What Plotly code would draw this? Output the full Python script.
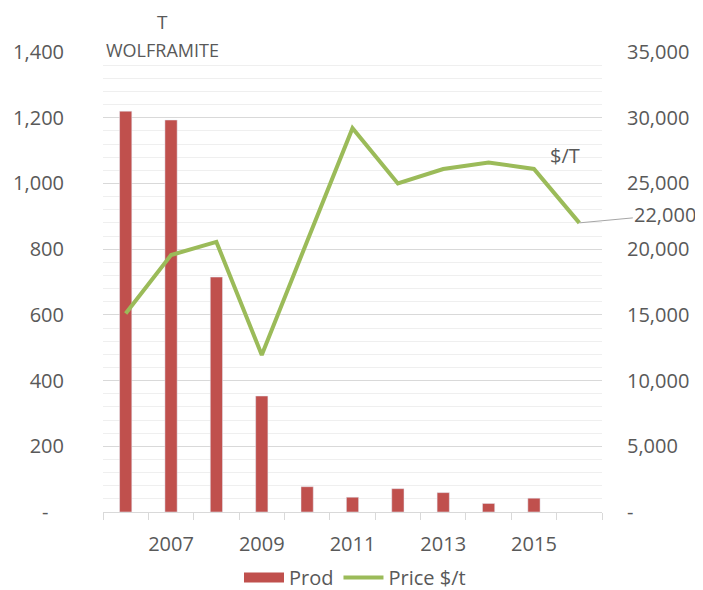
import plotly.graph_objects as go

# Wolframite production (t) and price ($/t)
years = [2006, 2007, 2008, 2009, 2010, 2011, 2012, 2013, 2014, 2015, 2016]
prod = [1220, 1193, 715, 353, 77, 45, 71, 59, 26, 42, None]
price = [15100, 19550, 20550, 11950, 20600, 29200, 25000, 26100, 26600, 26100, 22000]

label_years = [y for y in years if y % 2]
left_ticks = list(range(0, 1401, 200))
right_ticks = list(range(0, 35001, 5000))

GREY = "#595959"
RED = "#c0504d"
GREEN = "#9bbb59"
FONT = "Open Sans"


def fmt(v, pad=""):
    return "-" + pad if v == 0 else f"{v:,}"


fig = go.Figure()
fig.add_trace(go.Bar(
    x=years, y=prod, name="Prod", showlegend=False,
    marker=dict(color=RED), width=0.27,
))
# legend entry drawn as a wide block like the spreadsheet legend
fig.add_trace(go.Scatter(
    x=[None], y=[None], name="Prod", mode="lines",
    line=dict(color=RED, width=11),
))
fig.add_trace(go.Scatter(
    x=years, y=price, name="Price $/t", yaxis="y2",
    mode="lines", line=dict(color=GREEN, width=4),
))

fig.update_layout(
    width=695, height=582,
    margin=dict(l=95, r=101, t=44, b=78, autoexpand=False),
    paper_bgcolor="white", plot_bgcolor="white",
    font=dict(family=FONT, size=20, color=GREY),
    showlegend=True,
    legend=dict(orientation="h", x=0.505, xanchor="center", y=-0.1, yanchor="top",
                font=dict(size=20, color=GREY), itemwidth=40),
    xaxis=dict(
        range=[years[0] - 0.5, years[-1] + 0.5],
        tickvals=label_years, ticktext=[str(y) for y in label_years],
        ticks="", showline=True, linecolor="#d9d9d9", linewidth=1,
        minor=dict(tick0=years[0] - 0.5, dtick=1, ticks="outside", ticklen=7,
                   tickcolor="#d9d9d9", showgrid=False),
        showgrid=False, zeroline=False, tickfont=dict(size=20, color=GREY),
        ticklabelstandoff=14,
    ),
    yaxis=dict(
        range=[0, 1400], tickvals=left_ticks,
        ticktext=[fmt(v, "\u00a0\u00a0\u00a0") for v in left_ticks],
        showgrid=True, gridcolor="#d9d9d9", gridwidth=1,
        minor=dict(dtick=40, showgrid=True, gridcolor="#efefef", gridwidth=1),
        zeroline=False, showline=False, ticks="", ticklabelstandoff=38,
    ),
    yaxis2=dict(
        range=[0, 35000], overlaying="y", side="right",
        tickvals=right_ticks, ticktext=[fmt(v) for v in right_ticks],
        showgrid=False, zeroline=False, showline=False, ticks="",
        ticklabelstandoff=24,
    ),
    annotations=[
        dict(text="T", xref="paper", yref="paper", x=0.12, y=1.065,
             xanchor="center", yanchor="middle", showarrow=False,
             font=dict(size=19, color=GREY)),
        dict(text="WOLFRAMITE", xref="paper", yref="paper", x=0.12, y=1.004,
             xanchor="center", yanchor="middle", showarrow=False,
             font=dict(size=18, color=GREY)),
        dict(text="$/T", xref="paper", yref="paper", x=0.926, y=0.776,
             xanchor="center", yanchor="middle", showarrow=False,
             font=dict(size=20, color=GREY)),
        dict(text=f"{price[-1]:,}", x=years[-1], y=price[-1], xref="x", yref="y2",
             showarrow=True, arrowhead=0, arrowwidth=1, arrowcolor="#a6a6a6",
             ax=86, ay=-8, standoff=0, font=dict(size=20, color=GREY)),
    ],
)

fig.write_html("out.html")
